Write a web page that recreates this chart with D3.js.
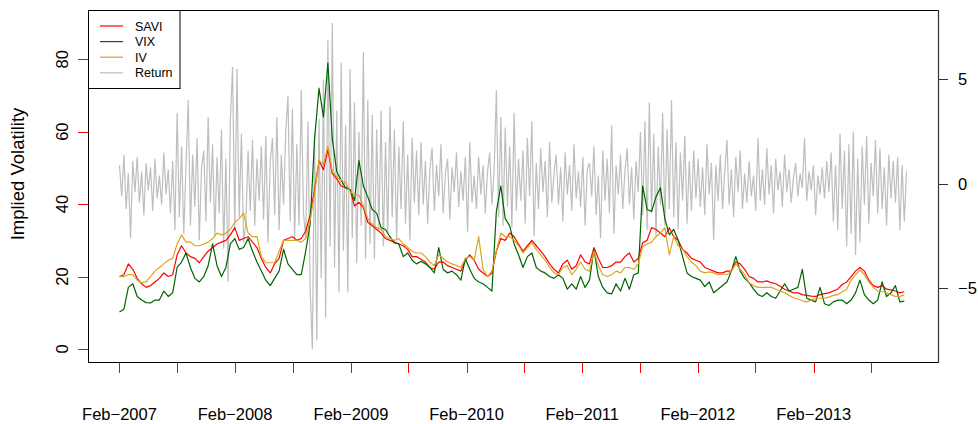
<!DOCTYPE html>
<html>
<head>
<meta charset="utf-8">
<script src="https://cdn.jsdelivr.net/npm/d3@7"></script>
<style>
  body { margin: 0; background: #fff; }
  text { font-family: "Liberation Sans", Arial, Helvetica, sans-serif; fill: #000; }
</style>
</head>
<body>
<svg id="chart" width="978" height="424"></svg>
<script>
// Fortnightly implied-volatility readings (annualised %), starting 1 Feb 2007
const savi = [
  20, 20.5, 23.5, 22, 19.5, 18, 17, 17.5, 18.5, 19.5,
  21, 20, 20.5, 26, 28.5, 26.5, 25.5, 25, 23.8, 25.5,
  27, 28, 29, 29.5, 30, 31.5, 33.5, 30, 30.5, 31,
  29.5, 28, 25, 22.5, 21, 23.5, 25, 30, 30.5, 31,
  30, 30.5, 32.5, 37, 44, 52, 49.5, 55, 48.5, 47,
  45, 44.5, 44, 39.5, 40.5, 39, 35, 34, 33, 32,
  30.5, 30, 29.5, 29, 28.5, 27.5, 25.5, 25.5, 24.8, 24,
  22.5, 22, 24, 24, 23, 22.5, 22, 21.5, 24.5, 26,
  24.5, 22, 21, 20, 21, 27, 30.5, 30, 32, 31,
  29, 27, 28.5, 30, 28.5, 27, 25.5, 23.5, 22, 21,
  23.5, 24.5, 22, 23, 26, 24, 23.5, 28, 25, 22.5,
  22.5, 23, 24, 24, 25.5, 26.5, 24, 25, 29.3, 30,
  33.5, 33, 32, 31, 33.5, 31, 30, 27.5, 26.5, 25,
  24.5, 24, 22.5, 22, 21.5, 21, 21, 21.5, 21.5, 24,
  23.5, 22, 20, 19.5, 18.5, 18.5, 18.8, 18.3, 18, 17.3,
  16.5, 16, 15.5, 15.5, 15, 14.8, 14.6, 14.5, 15, 15.3,
  15.5, 16, 16.5, 17.8, 18.5, 20, 21.5, 22.5, 21.5, 19,
  17.5, 17, 17.5, 16.5, 16.3, 16, 15.5, 15.8
];
const vix = [
  10.2, 11, 17, 18, 14.5, 13.5, 12.8, 12.7, 13.5, 13.5,
  16, 14.5, 15.5, 22.5, 24, 26.5, 22.5, 19.5, 18.5, 20,
  23, 29, 23, 20, 22.5, 29, 30.5, 27.5, 28, 30.5,
  27, 24, 21.5, 19, 17.5, 19.5, 21.5, 27.5, 23.5, 22,
  20.5, 20.5, 27, 34.5, 58, 72, 64, 79, 58, 49,
  46.5, 44.5, 44, 41, 52, 45, 42, 38.5, 37.5, 33.5,
  33, 31, 29.3, 29, 25.5, 26.5, 24.5, 23.5, 24.2, 23.5,
  22.5, 21, 28, 22, 21, 21.5, 20.5, 19, 25, 22,
  19.5, 18.5, 18, 17, 16, 38, 45, 36, 34, 29,
  26, 22.5, 25.5, 26.5, 22.5, 21.5, 21, 20, 19.5, 20.5,
  19.5, 16.5, 18, 16.5, 20, 17, 19, 27.5, 20, 17,
  15.5, 15.2, 18, 16, 19.5, 16.5, 20.5, 21, 45, 38.5,
  38, 42, 44.5, 36, 31.5, 33, 30, 25.5, 21, 20,
  19.5, 19, 17.2, 18.5, 15.5, 16.5, 17.5, 18.5, 21.5, 25.5,
  21.5, 19.5, 18.3, 16.5, 15, 14.5, 15.5, 14.5, 14, 16,
  18, 16, 16.5, 17, 22, 14, 13.5, 13, 17, 12.5,
  12, 13, 13.5, 13.5, 12.5, 13.5, 15.5, 19, 15, 13.5,
  12.5, 13.5, 18.5, 14.5, 15.5, 17.5, 13, 13.2
];
const iv = [
  20, 20, 20.5, 20.5, 19, 18.3, 18.5, 20, 21.5, 22.5,
  23.5, 24.5, 25, 29, 31.5, 29.5, 29.5, 28.5, 28.5, 29,
  29.5, 30.5, 32, 31.5, 32, 33, 35, 36, 37.5, 32,
  31, 31, 25.5, 23.8, 23.8, 23.8, 27, 30, 30, 30,
  30, 29.5, 30.5, 35.5, 43, 52, 51, 56, 49, 47.5,
  46.5, 46, 43.5, 42.5, 42.5, 39.5, 36, 34.5, 33.5, 33,
  31, 30.5, 30, 30.5, 29, 28, 27, 26.5, 26.5, 25.5,
  24, 23, 26, 25, 24, 23.5, 23, 22.5, 25, 25.5,
  24.5, 31, 22, 20, 21.5, 27, 32, 31, 31, 30,
  28.5, 26.5, 28, 29.3, 27.5, 26, 24.5, 22.5, 21, 20.5,
  22.5, 23, 20.5, 22, 24, 22, 21.5, 27, 23, 20.5,
  20, 20.5, 21.5, 21, 22.5, 22.5, 22, 23.5, 28.2, 29,
  29.5, 31, 32, 33.5, 26, 31, 28.5, 27.5, 25.5, 24,
  23, 21.5, 21, 21.3, 21, 20.5, 20.7, 20.5, 21.5, 23.5,
  22, 20.5, 18.3, 17.5, 17, 17, 17, 17, 16.5, 16,
  15.5, 14.8, 14.2, 13.8, 13.3, 13, 13.5, 14, 14, 14,
  14.3, 14.8, 15, 15.8, 16.5, 19, 20.5, 21.8, 20.5, 18.5,
  17, 16, 15.8, 15.5, 15, 14.5, 14.5, 15
];
// Weekly index returns (%), same start date
const ret = [
  0.9, -0.6, 1.4, -1.2, 0.5, -2.6, 1.1, -0.4, 1.3, -0.9, 0.6, -1.5, 1.0, -0.3, 0.8, -1.3, 1.2, -0.7, 0.4, -1.0, 1.5, -0.5, 0.7, -1.4, 1.1, -2.2,
  3.4, -1.6, 1.8, -2.4, 0.9, 4.0, -2.0, 1.4, -1.1, 2.2, -2.7, 0.8, 1.6, -1.8, 3.2, -0.9, 1.9, -2.5, 1.3, -1.4, 2.6, -3.1, 1.2, -4.7, 3.0, 5.6, -2.2, 5.5, -1.6, 2.4, -2.8,
  -1.9, 1.6, -1.3, 2.1, -2.0, 1.2, -0.8, 1.8, -1.7, 2.3, -2.8, 1.1, 2.2, -1.5, 3.2, -2.2, 1.4, -1.0, 2.5, 4.2, -1.8, 3.6, -2.6, 1.9, -2.0, 4.5, -1.4,
  -2.6, 3.0, -5.0, -7.9, 2.4, -7.5, 3.1, -4.5, 5.0, -6.4, 6.9, -3.0,
  7.7, -4.0, 3.5, -5.2, 5.8, -3.2, 2.8, -5.2, 5.5, -2.6, 3.9, -3.8, 2.5, -2.0, 6.3, -3.6, 4.0, -2.9, 3.3, -3.6, 2.6, -2.2, 3.5, -3.0, 2.0,
  -2.4, 3.7, -1.6, 2.6, -2.7, 1.8, -1.2, 3.0, -1.9, 1.4, -2.7, 2.2, -0.9,
  1.6, -1.5, 2.0, -1.0, 1.1, -1.9, 0.7, 1.7, -1.3, 0.9, -0.6, 1.9, -1.4, 0.5, 1.2, -1.7, 0.8, -0.4, 1.5, -1.1, 0.6, -0.8, 1.3, -2.3, 2.0, -0.9, 0.4, -1.2, 1.3, -0.5, 0.9, -1.4, 0.6, 1.5, -1.0, 0.7,
  4.5, -1.6, 3.2, -2.0, 2.7, -1.1, 1.8, -2.1, 3.4, -1.3, 1.2,
  -0.8, 1.6, -1.9, 2.2, -0.6, 3.0, -2.5, 1.0, -1.2, 1.7, -0.4, 1.1, -1.6, 2.0, -0.9, 0.5, 1.4, -1.0, 0.8, -1.8, 1.5, -0.5, 0.9, -1.3, 1.9, -0.7, 0.6, -1.1, 1.3, -2.0, 0.7, 1.0, -0.6, 1.8, -1.5, 0.4, -2.6, 1.6, -0.8, 1.2, -1.4, 2.8, -2.4, 0.9, -0.5, 1.4, -1.2, 0.6, 1.7, -1.0, 0.8, -1.7, 1.1, -0.4, 2.5,
  -1.5, 3.0, -2.2, 3.9, -1.4, 2.4, -2.5, 1.8, -1.0, 3.4, -2.0, 2.6, -1.2, 4.0, -1.6, 2.0, -2.2, 1.5, -0.8, 2.3, -1.9, 1.1,
  -1.3, 1.6, -0.7, 1.2, -1.1, 0.8, -1.5, 1.9, -0.5, 1.0, -2.7, 0.9, -0.8, 1.4, -1.2, 0.6, 2.1, -1.0, 0.7, -1.6, 1.3, -0.4, 1.6, -1.2, 0.5, -0.9, 1.1, -0.6, 0.4, -1.3, 2.2, -0.8, 0.7, -1.0, 1.7, -0.5, 0.9, -1.4, 1.2, -0.3, 0.6, -1.1, 1.4,
  -0.4, 0.7, -0.9, 0.3, 1.0, -0.6, 0.5, -0.2, 2.2, -0.8, 0.6, -0.3, 0.9, -1.5, 0.4, -0.5, 0.8, -0.7, 1.1, -0.4,
  1.5, -1.8, 0.9, -2.2, 2.4, -1.2, 1.6, -3.0, 1.9, -2.4, 2.5, -3.4, 1.2, -2.8, 1.8, -1.0, 2.3, -1.9, 1.0, -0.6, 2.1, -1.4, 1.7, -1.2, 0.8, -2.0, 1.4, -0.7, 1.1, -0.9, 1.3, -2.2, 0.9, -1.8, 0.6
];

const startDate = new Date(Date.UTC(2007, 1, 1));
const legendNames = ["SAVI", "VIX", "IV", "Return"];
const legendColors = ["#ff0000", "#006400", "#daa520", "#bebebe"];
const leftTicks = [0, 20, 40, 60, 80];
const leftRange = [0, 90];
const rightTicks = [-5, 0, 5];
const rightTickLabels = ["\u22125", "0", "5"];
const tickYears = [2007, 2008, 2009, 2010, 2011, 2012, 2013];
const tickLabels = ["Feb\u22122007", "Feb\u22122008", "Feb\u22122009", "Feb\u22122010", "Feb\u22122011", "Feb\u22122012", "Feb\u22122013"];

// date index for each series
const volDates = savi.map((_, i) => d3.utcDay.offset(startDate, i * 14));
const retDates = ret.map((_, i) => d3.utcDay.offset(startDate, i * 7));

const L = 88, R = 938, T = 10, B = 362;
const AXIS_FONT = 16.5;
const svg = d3.select("#chart");
svg.append("rect").attr("width", 978).attr("height", 424).attr("fill", "#fff");

// R-style 4% padding on data ranges
function padded(lo, hi) { const p = (hi - lo) * 0.04; return [lo - p, hi + p]; }

const tExtent = d3.extent(retDates);
const tPad = (tExtent[1] - tExtent[0]) * 0.04;
const x = d3.scaleUtc()
  .domain([new Date(+tExtent[0] - tPad), new Date(+tExtent[1] + tPad)])
  .range([L, R]);
const yL = d3.scaleLinear().domain(padded(leftRange[0], leftRange[1])).range([B, T]);
const yR = d3.scaleLinear().domain(padded(d3.min(ret), d3.max(ret))).range([B, T]);

const plot = svg.append("g");

// returns on the secondary scale, behind the volatility lines
plot.append("path")
  .datum(ret.map((v, i) => ({ d: retDates[i], v })))
  .attr("fill", "none").attr("stroke", legendColors[3]).attr("stroke-width", 1.2)
  .attr("d", d3.line().x(p => x(p.d)).y(p => yR(p.v)));

[[savi, 0], [vix, 1], [iv, 2]].forEach(([vals, k]) => {
  plot.append("path")
    .datum(vals.map((v, i) => ({ d: volDates[i], v })))
    .attr("fill", "none").attr("stroke", legendColors[k]).attr("stroke-width", 1.2)
    .attr("stroke-linejoin", "round")
    .attr("d", d3.line().x(p => x(p.d)).y(p => yL(p.v)));
});

// frame
svg.append("rect").attr("x", L + 0.5).attr("y", T + 0.5)
  .attr("width", R - L).attr("height", B - T)
  .attr("fill", "none").attr("stroke", "#000").attr("stroke-width", 1);

// left axis (red ticks, rotated labels)
const gl = svg.append("g");
leftTicks.forEach(v => {
  const yy = Math.round(yL(v)) + 0.5;
  gl.append("line").attr("x1", L - 10).attr("x2", L).attr("y1", yy).attr("y2", yy)
    .attr("stroke", "#ff0000").attr("stroke-width", 1);
  gl.append("text").attr("transform", `translate(68,${yL(v)}) rotate(-90)`)
    .attr("text-anchor", "middle").attr("font-size", AXIS_FONT).text(v);
});
svg.append("text").attr("transform", `translate(24,174) rotate(-90)`)
  .attr("text-anchor", "middle").attr("font-size", 18.5).text("Implied Volatility");

// right axis
const gr = svg.append("g");
gr.append("line").attr("x1", R + 0.5).attr("x2", R + 0.5).attr("y1", T).attr("y2", B + 1)
  .attr("stroke", "#333").attr("stroke-width", 1.2);
rightTicks.forEach((v, i) => {
  const yy = Math.round(yR(v)) + 0.5;
  gr.append("line").attr("x1", R).attr("x2", R + 10).attr("y1", yy).attr("y2", yy)
    .attr("stroke", "#333").attr("stroke-width", 1);
  gr.append("text").attr("x", 958).attr("y", yR(v)).attr("dy", "0.36em")
    .attr("font-size", AXIS_FONT).text(rightTickLabels[i]);
});

// bottom axis: half-yearly red ticks, yearly labels
const gb = svg.append("g");
const halfYears = [];
tickYears.forEach(yr => {
  halfYears.push(new Date(Date.UTC(yr, 1, 1)));
  halfYears.push(new Date(Date.UTC(yr, 7, 1)));
});
halfYears.forEach(d => {
  const xx = Math.round(x(d)) + 0.5;
  gb.append("line").attr("x1", xx).attr("x2", xx).attr("y1", B + 1).attr("y2", B + 11)
    .attr("stroke", "#ff0000").attr("stroke-width", 1);
});
tickYears.forEach((yr, i) => {
  gb.append("text").attr("x", x(new Date(Date.UTC(yr, 1, 1)))).attr("y", 420)
    .attr("text-anchor", "middle").attr("font-size", AXIS_FONT).text(tickLabels[i]);
});

// legend
const lg = svg.append("g");
lg.append("rect").attr("x", L + 0.5).attr("y", T + 0.5).attr("width", 91.5).attr("height", 78)
  .attr("fill", "#fff").attr("stroke", "#000").attr("stroke-width", 1);
legendNames.forEach((name, i) => {
  const yy = 26 + i * 15.6;
  lg.append("line").attr("x1", 100).attr("x2", 123).attr("y1", yy).attr("y2", yy)
    .attr("stroke", legendColors[i]).attr("stroke-width", 1.2);
  lg.append("text").attr("x", 135).attr("y", yy).attr("dy", "0.36em")
    .attr("font-size", 12.5).text(name);
});
</script>
</body>
</html>
